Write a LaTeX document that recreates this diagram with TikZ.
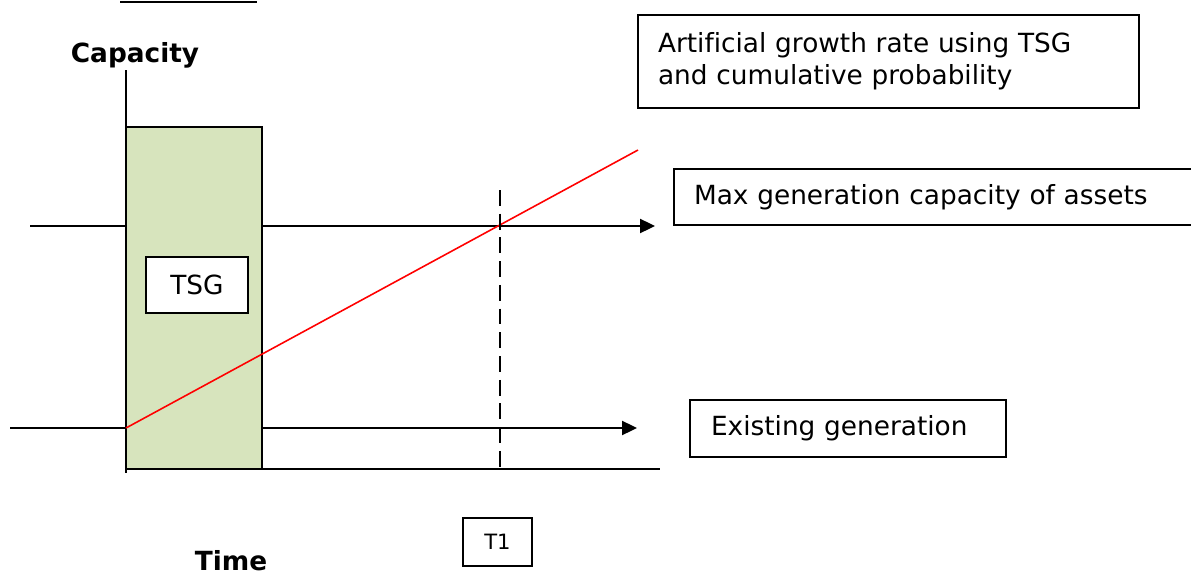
\documentclass[tikz,border=0pt]{standalone}
\usepackage{fontspec}
\setmainfont{DejaVu Sans}[Ligatures=NoCommon]
\usetikzlibrary{arrows.meta}
\definecolor{tsggreen}{HTML}{D7E4BD}
\tikzset{
    label box/.style = {draw, line width=1.1pt, fill=white, inner xsep=0.4cm, align=left, font=\fontsize{15}{18}\selectfont},
    flow/.style = {line width=1.1pt, -{Triangle[length=8.5pt, width=8pt]}}
}
\begin{document}
\begin{tikzpicture}[x=0.02cm, y=-0.02cm]
        \useasboundingbox (0,0) rectangle (1191,578);

        \coordinate (MaxStart) at (30,226);
        \coordinate (MaxEnd) at (655,226);
        \coordinate (ExistStart) at (10,428);
        \coordinate (ExistEnd) at (637,428);
        \coordinate (Origin) at (126,469);
        \coordinate (AxisTop) at (126,70);
        \coordinate (AxisBottom) at (126,473);
        \coordinate (AxisEnd) at (660,469);
        \coordinate (GrowthStart) at (126,428);
        \coordinate (GrowthEnd) at (638,150);
        \coordinate (TOneTop) at (500,190);
        \coordinate (TOneBottom) at (500,469);

        \draw[line width=1.1pt] (120,2) -- (257,2);

        \draw[flow] (MaxStart) -- (MaxEnd);
        \draw[flow] (ExistStart) -- (ExistEnd);
        \draw[line width=1.1pt, fill=tsggreen] (126,127) rectangle (262,469);
        \draw[line width=1.1pt] (AxisTop) -- (AxisBottom);
        \draw[line width=1.1pt] (Origin) -- (AxisEnd);
        \draw[red, line width=0.9pt] (GrowthStart) -- (GrowthEnd);
        \draw[line width=1pt, dash pattern=on 9pt off 4.5pt] (TOneTop) -- (TOneBottom);

        \node (Capacity) at (135,55) {\fontsize{15}{18}\selectfont\bfseries Capacity};
        \node (Time) [inner sep=0pt] at (231,561) {\fontsize{15}{18}\selectfont\bfseries Time};

        \node (TSG) [draw, line width=1.1pt, fill=white, minimum width=2.04cm, minimum height=1.12cm, font=\fontsize{15}{18}\selectfont] at (197,285) {TSG};
        \node (TOne) [draw, line width=1.1pt, minimum width=1.38cm, minimum height=0.96cm, font=\fontsize{12}{14}\selectfont] at (497.5,542) {T1};

        \node (Growth) [label box, text width=9.22cm, minimum height=1.86cm] at (888.5,61.5) {Artificial growth rate using TSG\\and cumulative probability};
        \node (MaxGen) [label box, text width=9.62cm, minimum height=1.12cm] at (934.5,197) {Max generation capacity of assets};
        \node (Existing) [label box, inner xsep=0.42cm, text width=5.48cm, minimum height=1.14cm] at (848,428.5) {Existing generation};
    \end{tikzpicture}
\end{document}
